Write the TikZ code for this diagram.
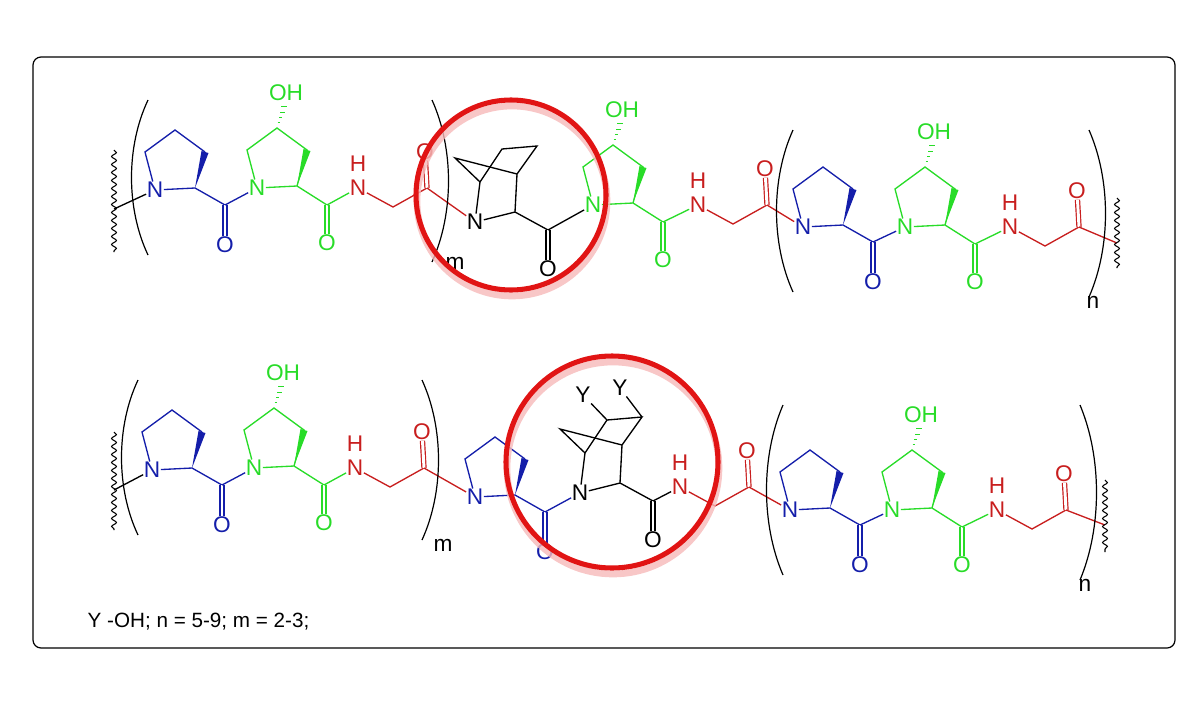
\documentclass[tikz,border=0pt]{standalone}
\usepackage{fontspec}
\setmainfont{Liberation Sans}
\usetikzlibrary{calc,decorations.pathmorphing}
\definecolor{pb}{RGB}{20,30,170}
\definecolor{hg}{RGB}{40,220,40}
\definecolor{gr}{RGB}{200,30,30}
\definecolor{cr}{RGB}{225,20,20}
\tikzset{
 atom/.style={inner sep=0.3pt,font=\fontsize{17}{18}\selectfont},
 bd/.style={line width=1pt},
 db/.style={line width=0.9pt,double=white,double distance=2.2pt},
 par/.style={line width=0.9pt,black},
 wav/.style={line width=0.8pt,decorate,decoration={snake,amplitude=1.8pt,segment length=6pt}},
}
\newcommand\PRO[3]{\begin{scope}[shift={(#2,#3)},pb]
\node[atom] (#1N) at (0,0) {N};
\coordinate (#1a) at (-10,-38);\coordinate (#1b) at (20,-60);\coordinate (#1c) at (50,-38);
\coordinate (#1d) at (40,-2);\coordinate (#1C) at (70,15);\node[atom] (#1O) at (70,55) {O};
\draw[bd] (#1N)--(#1a)--(#1b)--(#1c); \draw[bd] (#1N)--(#1d)--(#1C);
\draw[db] (#1C)--(#1O);
\fill (#1d)--($(#1c)+(3.5,1)$)--($(#1c)+(-3.5,-1)$)--cycle;
\end{scope}}
\newcommand\HYP[3]{\begin{scope}[shift={(#2,#3)},hg]
\node[atom] (#1N) at (0,0) {N};
\coordinate (#1a) at (-10,-38);\coordinate (#1b) at (20,-60);\coordinate (#1c) at (50,-38);
\coordinate (#1d) at (40,-2);\coordinate (#1C) at (70,17);\node[atom] (#1O) at (70,55) {O};
\node[atom] (#1OH) at (29,-95) {OH};
\draw[bd] (#1N)--(#1a)--(#1b)--(#1c)--(#1d)--(#1N); \draw[bd] (#1d)--(#1C);
\draw[db] (#1C)--(#1O);
\fill (#1d)--($(#1c)+(3.5,1)$)--($(#1c)+(-3.5,-1)$)--cycle;
\foreach \t/\w in {0.2/1.2,0.4/1.8,0.6/2.4,0.8/3} \draw[line width=0.7pt] ($(#1b)!\t!(#1OH.south)+(-\w,0)$)--++(2*\w,0);
\end{scope}}
\newcommand\GLY[3]{\begin{scope}[shift={(#2,#3)},gr]
\node[atom] (#1N) at (0,0) {N};\node[atom] (#1H) at (0,-24) {H};
\coordinate (#1a) at (35,19);\coordinate (#1C) at (69,0);\node[atom] (#1O) at (67,-36) {O};
\draw[bd] (#1N)--(#1a)--(#1C); \draw[db] (#1C)--(#1O);
\end{scope}}
\newcommand\BIC[4]{\begin{scope}[shift={(#2,#3)},black]
\node[atom] (#1N) at (0,0) {N};
\coordinate (#1B) at (5,-40);\coordinate (#1A) at (-20,-64);\coordinate (#1T) at (27,-73);
\coordinate (#1U) at (62,-76);\coordinate (#1E) at (42,-48);\coordinate (#1c) at (40,-10);
\coordinate (#1C) at (73,8);\node[atom] (#1O) at (73,47) {O};
\draw[bd] (#1N)--(#1B)--(#1A)--(#1E)--(#1c)--(#1N); \draw[bd] (#1B)--(#1T)--(#1U)--(#1E);
\draw[bd] (#1c)--(#1C); \draw[db] (#1C)--(#1O);
#4
\end{scope}}
\newcommand\LP[3]{\draw[par] (#1+8,#2) .. controls (#1-14,#2+0.3*#3-0.3*#2) and (#1-14,#3-0.3*#3+0.3*#2) .. (#1+8,#3);}
\newcommand\RP[3]{\draw[par] (#1-8,#2) .. controls (#1+14,#2+0.3*#3-0.3*#2) and (#1+14,#3-0.3*#3+0.3*#2) .. (#1-8,#3);}
\begin{document}
\begin{tikzpicture}[x=0.75pt,y=-0.75pt]
\useasboundingbox (0,0) rectangle (1200,701);
\draw[line width=0.9pt,rounded corners=6pt] (33,57) rectangle (1175,648);
% top row
\PRO{a}{155}{190}\HYP{b}{257}{188}\GLY{c}{358}{188}
\BIC{d}{475}{222}{}
\HYP{e}{593}{205}\GLY{f}{698}{205}\PRO{g}{803}{227}\HYP{h}{905}{227}\GLY{i}{1010}{227}
\draw[bd,pb] (aC)--(bN); \draw[bd,hg] (bC)--(cN); \draw[bd,gr] (cC)--(dN);
\draw[bd] (dC)--(eN); \draw[bd,hg] (eC)--(fN); \draw[bd,gr] (fC)--(gN);
\draw[bd,pb] (gC)--(hN); \draw[bd,hg] (hC)--(iN);
\coordinate (w1) at (114,209); \coordinate (w2) at (1117,243);
\draw[bd] (w1)--(aN); \draw[bd,gr] (iC)--(w2);
\draw[wav] (114,150)--(114,252); \draw[wav] (1117,198)--(1117,268);
\LP{140}{100}{255}\RP{440}{100}{262}\LP{785}{130}{292}\RP{1097}{130}{297}
\node[atom] (m1) at (455,263) {m}; \node[atom] (n1) at (1093,302) {n};
% bottom row
\PRO{j}{152}{470}\HYP{k}{254}{468}\GLY{l}{355}{468}\PRO{o}{475}{497}
\BIC{q}{580}{493}{\node[atom] (qY1) at (3,-98) {Y};\node[atom] (qY2) at (40,-105) {Y};
 \draw[bd] (qT)--(qY1); \draw[bd] (qU)--(qY2);}
\GLY{r}{680}{487}\PRO{s}{790}{510}\HYP{t}{892}{510}\GLY{u}{997}{510}
\draw[bd,pb] (jC)--(kN); \draw[bd,hg] (kC)--(lN); \draw[bd,gr] (lC)--(oN);
\draw[bd,pb] (oC)--(qN); \draw[bd] (qC)--(rN); \draw[bd,gr] (rC)--(sN);
\draw[bd,pb] (sC)--(tN); \draw[bd,hg] (tC)--(uN);
\coordinate (w3) at (114,490); \coordinate (w4) at (1105,525);
\draw[bd] (w3)--(jN); \draw[bd,gr] (uC)--(w4);
\draw[wav] (114,432)--(114,530); \draw[wav] (1105,480)--(1105,552);
\LP{130}{380}{535}\RP{430}{380}{540}\LP{775}{405}{575}\RP{1088}{405}{580}
\node[atom] (m2) at (443,545) {m}; \node[atom] (n2) at (1085,585) {n};
% circles
\draw[line width=5pt,cr!30,opacity=0.8] (512,201) circle (95);
\draw[line width=3.8pt,cr] (511,195) circle (95);
\draw[line width=5pt,cr!30,opacity=0.8] (613,468) circle (106);
\draw[line width=3.8pt,cr] (612,462) circle (106);
\node[atom,anchor=west,font=\fontsize{15.5}{17}\selectfont] (leg) at (87,622) {Y -OH; n = 5-9; m = 2-3;};
\end{tikzpicture}
\end{document}
